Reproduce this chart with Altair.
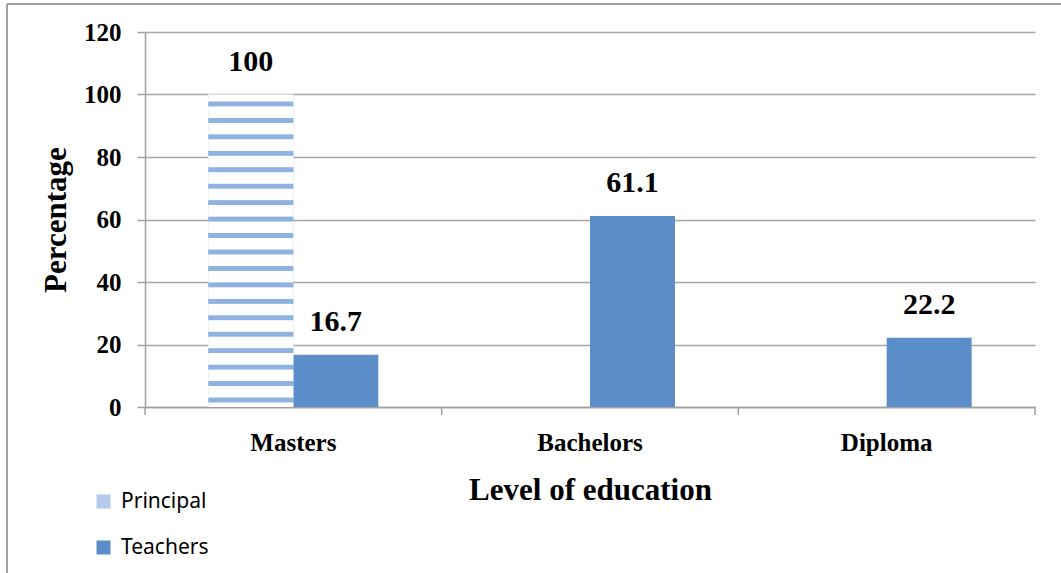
import altair as alt
import pandas as pd

categories = ["Masters", "Bachelors", "Diploma"]
series = ["Principal", "Teachers"]
principal = [100, 0, 0]
teachers = [16.7, 61.1, 22.2]
category_edges = [0, 1, 2, 3]

rows = []
for i, c in enumerate(categories):
    rows.append({"level": c, "group": "Principal", "value": principal[i]})
    rows.append({"level": c, "group": "Teachers", "value": teachers[i]})
df = pd.DataFrame(rows)
edges = pd.DataFrame({"edge": category_edges})

SERIF = "Liberation Serif"
AXIS_GRAY = "#a0a0a0"
BLUE = "#5b8ec9"
LIGHT = "#b4cbea"

# stripe gradient to suggest the wavy pattern on the Principal bar
n = 19
stops = []
for k in range(n):
    a = k / n
    w = 1 / n
    stops += [
        alt.GradientStop(color="#ffffff", offset=a),
        alt.GradientStop(color="#ffffff", offset=a + 0.4 * w),
        alt.GradientStop(color="#8fb2e0", offset=a + 0.45 * w),
        alt.GradientStop(color="#8fb2e0", offset=a + 0.7 * w),
        alt.GradientStop(color="#ffffff", offset=a + 0.75 * w),
    ]
stops.append(alt.GradientStop(color="#ffffff", offset=1))
wave = alt.Gradient(gradient="linear", stops=stops, x1=0, x2=0, y1=0, y2=1)

x_enc = alt.X(
    "level:N",
    sort=categories,
    scale=alt.Scale(paddingInner=0.427, paddingOuter=0.2135),
    axis=alt.Axis(
        title="Level of education",
        titleFont=SERIF, titleFontSize=31, titleFontWeight="bold", titleColor="black",
        titlePadding=20,
        labelFont=SERIF, labelFontSize=25, labelFontWeight="bold", labelColor="black",
        labelPadding=23, labelAngle=0,
        domainColor=AXIS_GRAY, domainWidth=1.5,
        ticks=False,
        grid=False,
    ),
)
xoff = alt.XOffset("group:N", sort=series, scale=alt.Scale(paddingInner=0, paddingOuter=0))
y_enc = alt.Y(
    "value:Q",
    scale=alt.Scale(domain=[0, 120], nice=False),
    axis=alt.Axis(
        values=[0, 20, 40, 60, 80, 100, 120],
        title="Percentage",
        titleFont=SERIF, titleFontSize=31, titleFontWeight="bold", titleColor="black",
        titlePadding=11,
        labelFont=SERIF, labelFontSize=25, labelFontWeight="bold", labelColor="black",
        labelPadding=16,
        domainColor=AXIS_GRAY, domainWidth=1.5,
        tickColor=AXIS_GRAY, tickWidth=1.5, tickSize=8,
        gridColor="#a6a6a6", gridWidth=1.5,
    ),
)

bars = alt.Chart(df).mark_bar().encode(
    x=x_enc,
    xOffset=xoff,
    y=y_enc,
    color=alt.Color(
        "group:N",
        sort=series,
        scale=alt.Scale(domain=series, range=[LIGHT, BLUE]),
        legend=alt.Legend(
            title=None, orient="none", legendX=-52, legendY=459, direction="vertical",
            symbolType="square", symbolSize=196, symbolStrokeWidth=0,
            labelFont="Noto Sans", labelFontSize=21, labelColor="black",
            rowPadding=24, labelOffset=7, padding=0,
        ),
    ),
)

wave_bar = alt.Chart(df).transform_filter(
    (alt.datum.group == "Principal") & (alt.datum.value > 0)
).mark_bar(color=wave).encode(
    x=alt.X("level:N", sort=categories),
    xOffset=alt.XOffset("group:N", sort=series),
    y=alt.Y("value:Q"),
)

labels = alt.Chart(df).transform_filter(alt.datum.value > 0).mark_text(
    font=SERIF, fontSize=30, fontWeight="bold", color="black",
    baseline="alphabetic", dy=-24,
).encode(
    x=alt.X("level:N", sort=categories),
    xOffset=alt.XOffset("group:N", sort=series),
    y=alt.Y("value:Q"),
    text=alt.Text("value:Q"),
)

edge_ticks = alt.Chart(edges).mark_rule(color=AXIS_GRAY, strokeWidth=1.5).encode(
    x=alt.X("edge:Q", scale=alt.Scale(domain=[0, 3], nice=False, zero=False), axis=None),
    y=alt.value(375), y2=alt.value(383),
)

frame_top = alt.Chart(edges).mark_rule(color=AXIS_GRAY, strokeWidth=2).encode(
    x=alt.value(-138), x2=alt.value(930), y=alt.value(-28)
)
frame_left = alt.Chart(edges).mark_rule(color=AXIS_GRAY, strokeWidth=2).encode(
    x=alt.value(-138), y=alt.value(-28), y2=alt.value(560)
)

main = alt.layer(bars, wave_bar, labels)

chart = alt.layer(main, edge_ticks, frame_top, frame_left).resolve_scale(
    x="independent"
).properties(
    width=890, height=375,
    padding={"left": 145, "top": 32, "right": 26, "bottom": 166},
    autosize=alt.AutoSizeParams(type="none"),
    background="white",
).configure_view(stroke=None)

chart.save("out.html", embed_options={"renderer": "svg", "actions": False})
